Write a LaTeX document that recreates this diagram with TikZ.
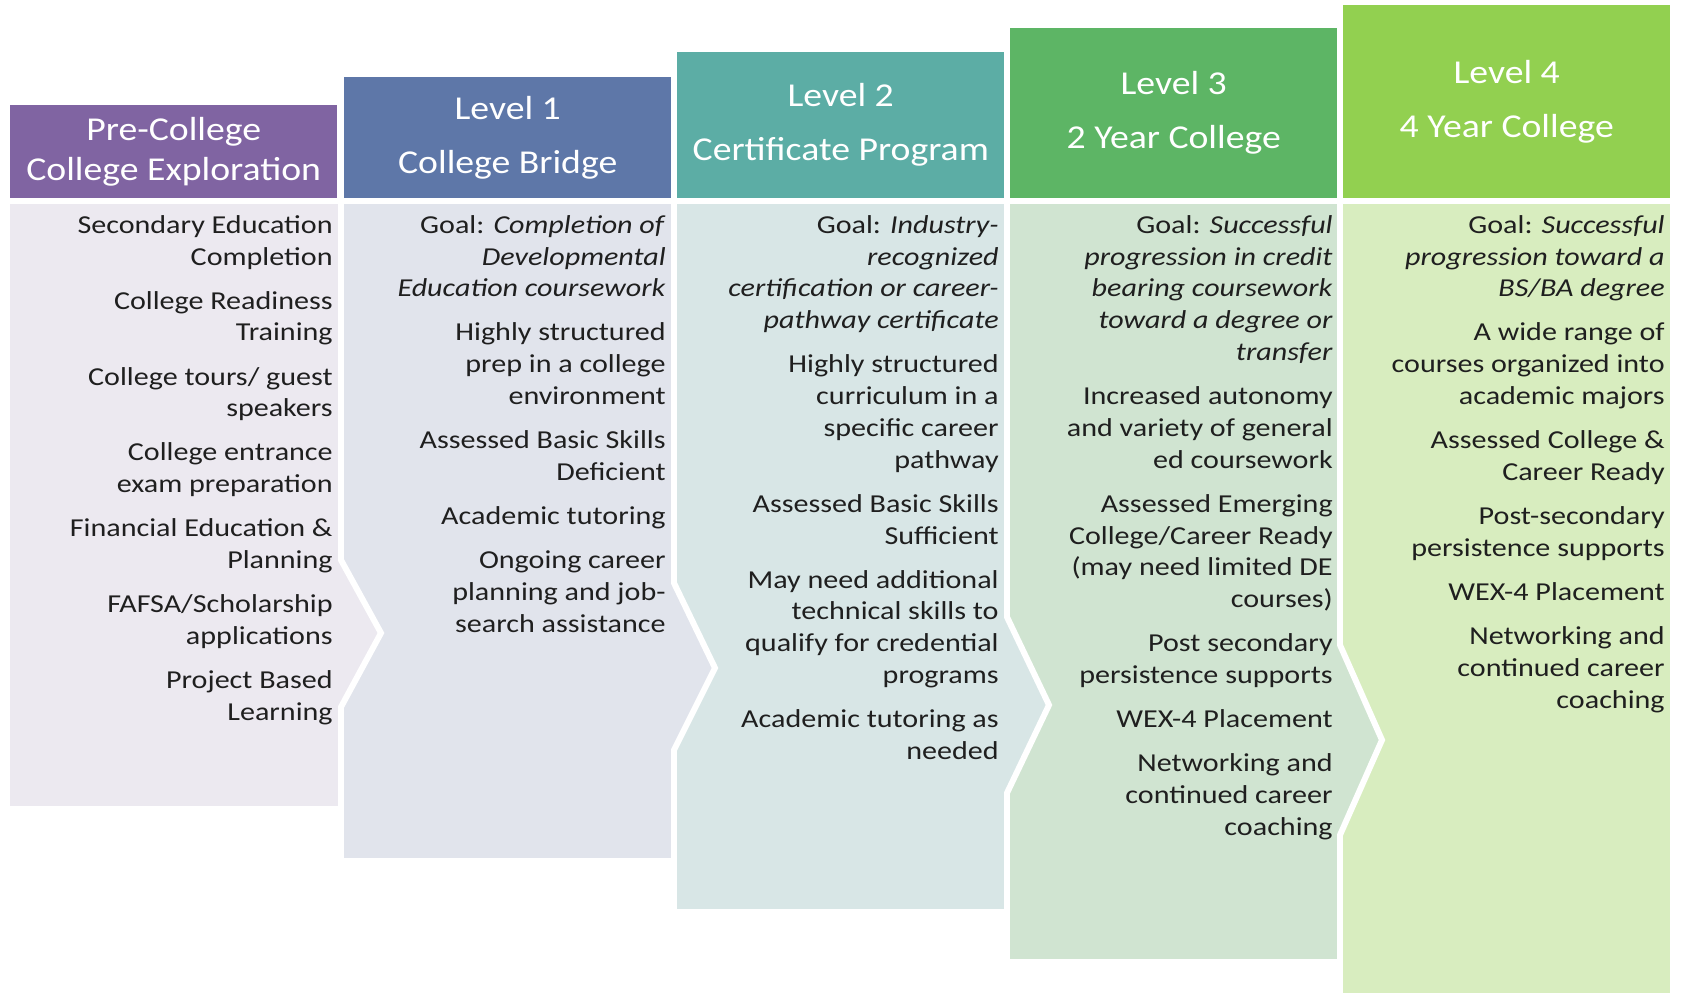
\documentclass[tikz,border=0pt]{standalone}
\usepackage{fontspec}
\setmainfont{Carlito}[FakeStretch=1.13]
\newfontfamily\itemfont{Carlito}[FakeStretch=1.165]
\definecolor{precollege}{HTML}{8064A2}
\definecolor{levelone}{HTML}{5E77A8}
\definecolor{leveltwo}{HTML}{5CADA5}
\definecolor{levelthree}{HTML}{5DB565}
\definecolor{levelfour}{HTML}{92D050}
\definecolor{bandpre}{HTML}{ECE9F0}
\definecolor{bandone}{HTML}{E1E4EC}
\definecolor{bandtwo}{HTML}{D8E6E6}
\definecolor{bandthree}{HTML}{D0E4D1}
\definecolor{bandfour}{HTML}{D8EDBF}

\begin{document}
\begin{tikzpicture}[x=0.02cm, y=-0.02cm,
  head/.style={rectangle, inner sep=0pt, outer sep=0pt, anchor=south west, minimum width=6.55cm, text=white, align=center, font=\fontsize{19}{30.5}\selectfont},
  band/.style={draw=white, line width=3.4pt, line join=miter},
  items/.style={anchor=north east, inner sep=0pt, align=right, text=black!88, font=\itemfont\fontsize{14.7}{18.1}\selectfont}]
\useasboundingbox (0,0) rectangle (1681,993);
% column bands, last one first so each arrow point lies on the next band
\path[band, fill=bandfour] (1340,201) -- (1673,201) -- (1673,996) -- (1340,996) -- cycle;
\path[band, fill=bandthree] (1007,201) -- (1340,201) -- (1340,645) -- (1382,740) -- (1340,835) -- (1340,962) -- (1007,962) -- cycle;
\path[band, fill=bandtwo] (674,201) -- (1007,201) -- (1007,617) -- (1049,705) -- (1007,793) -- (1007,912) -- (674,912) -- cycle;
\path[band, fill=bandone] (341,201) -- (674,201) -- (674,583) -- (715,668) -- (674,750) -- (674,861) -- (341,861) -- cycle;
\path[band, fill=bandpre] (7,201) -- (341,201) -- (341,560) -- (381,633) -- (341,707) -- (341,809) -- (7,809) -- cycle;
% headers
\node[head, fill=precollege, minimum height=1.86cm, font=\fontsize{19}{22.7}\selectfont] (h0) at (10,198) {Pre-College\\College Exploration};
\node[head, fill=levelone, minimum height=2.42cm] (h1) at (344,198) {Level 1\\College Bridge};
\node[head, fill=leveltwo, minimum height=2.92cm] (h2) at (677,198) {Level 2\\Certificate Program};
\node[head, fill=levelthree, minimum height=3.40cm] (h3) at (1010,198) {Level 3\\2 Year College};
\node[head, fill=levelfour, minimum height=3.86cm] (h4) at (1343,198) {Level 4\\4 Year College};
% contents
\node[items] (b0) at (333,215) {Secondary Education\\Completion\\[7pt]
  College Readiness\\Training\\[7pt]
  College tours/ guest\\speakers\\[7pt]
  College entrance\\exam preparation\\[7pt]
  Financial Education \&\\Planning\\[7pt]
  FAFSA/Scholarship\\applications\\[7pt]
  Project Based\\Learning};
\node[items] (b1) at (666,215) {Goal: \textit{Completion of}\\\textit{Developmental}\\\textit{Education coursework}\\[7pt]
  Highly structured\\prep in a college\\environment\\[7pt]
  Assessed Basic Skills\\Deficient\\[7pt]
  Academic tutoring\\[7pt]
  Ongoing career\\planning and job-\\search assistance};
\node[items] (b2) at (999,215) {Goal: \textit{Industry-}\\\textit{recognized}\\\textit{certification or career-}\\\textit{pathway certificate}\\[7pt]
  Highly structured\\curriculum in a\\specific career\\pathway\\[7pt]
  Assessed Basic Skills\\Sufficient\\[7pt]
  May need additional\\technical skills to\\qualify for credential\\programs\\[7pt]
  Academic tutoring as\\needed};
\node[items] (b3) at (1333,215) {Goal: \textit{Successful}\\\textit{progression in credit}\\\textit{bearing coursework}\\\textit{toward a degree or}\\\textit{transfer}\\[7pt]
  Increased autonomy\\and variety of general\\ed coursework\\[7pt]
  Assessed Emerging\\College/Career Ready\\(may need limited DE\\courses)\\[7pt]
  Post secondary\\persistence supports\\[7pt]
  WEX-4 Placement\\[7pt]
  Networking and\\continued career\\coaching};
\node[items] (b4) at (1665,215) {Goal: \textit{Successful}\\\textit{progression toward a}\\\textit{BS/BA degree}\\[7pt]
  A wide range of\\courses organized into\\academic majors\\[7pt]
  Assessed College \&\\Career Ready\\[7pt]
  Post-secondary\\persistence supports\\[7pt]
  WEX-4 Placement\\[7pt]
  Networking and\\continued career\\coaching};
\end{tikzpicture}
\end{document}
